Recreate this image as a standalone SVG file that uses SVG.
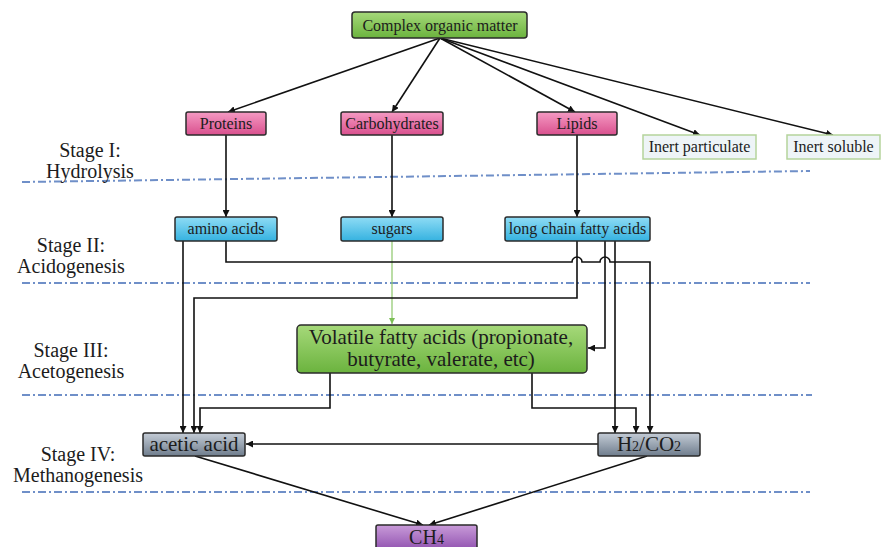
<svg xmlns="http://www.w3.org/2000/svg" width="883" height="547" viewBox="0 0 883 547">
<defs>
<linearGradient id="gGreen" x1="0" y1="0" x2="0" y2="1"><stop offset="0" stop-color="#a6d97a"/><stop offset="1" stop-color="#6bb33e"/></linearGradient>
<linearGradient id="gPink" x1="0" y1="0" x2="0" y2="1"><stop offset="0" stop-color="#f59ac3"/><stop offset="1" stop-color="#d9508e"/></linearGradient>
<linearGradient id="gBlue" x1="0" y1="0" x2="0" y2="1"><stop offset="0" stop-color="#8fdcf5"/><stop offset="1" stop-color="#35b2e0"/></linearGradient>
<linearGradient id="gGray" x1="0" y1="0" x2="0" y2="1"><stop offset="0" stop-color="#c4ccd6"/><stop offset="1" stop-color="#6f7d8d"/></linearGradient>
<linearGradient id="gPurple" x1="0" y1="0" x2="0" y2="1"><stop offset="0" stop-color="#c99bd9"/><stop offset="1" stop-color="#8e4fae"/></linearGradient>
<marker id="arr" viewBox="0 0 10 10" refX="10" refY="5" markerWidth="7" markerHeight="7" markerUnits="userSpaceOnUse" orient="auto"><path d="M0,0 L10,5 L0,10 z" fill="#111"/></marker>
<marker id="arrG" viewBox="0 0 10 10" refX="10" refY="5" markerWidth="6" markerHeight="6" markerUnits="userSpaceOnUse" orient="auto"><path d="M0,0 L10,5 L0,10 z" fill="#7cbf55"/></marker>
</defs>
<style>
.box{stroke:#2b2b2b;stroke-width:1.5}
.t{font-family:"Liberation Serif","Times New Roman",serif;fill:#1c1c1c;text-anchor:middle}
.s16{font-size:16px}
.s21{font-size:21px}
.stage{font-family:"Liberation Serif","Times New Roman",serif;font-size:20px;fill:#1c1c1c;text-anchor:middle}
.sep{stroke:#6f8fc8;stroke-width:2;stroke-dasharray:8 3 2 3;fill:none}
.c{stroke:#111;stroke-width:1.6;fill:none}
</style>
<rect width="883" height="547" fill="#ffffff"/>
<g id="separators">
<line class="sep" x1="22" y1="182" x2="810" y2="171"/>
<line class="sep" x1="22" y1="283" x2="810" y2="283"/>
<line class="sep" x1="22" y1="395" x2="812" y2="395"/>
<line class="sep" x1="22" y1="492" x2="810" y2="492"/>
</g>
<g id="stages">
<text class="stage" x="90" y="157">Stage I:</text>
<text class="stage" x="90" y="178">Hydrolysis</text>
<text class="stage" x="71" y="252">Stage II:</text>
<text class="stage" x="71" y="273">Acidogenesis</text>
<text class="stage" x="71" y="357">Stage III:</text>
<text class="stage" x="71" y="378">Acetogenesis</text>
<text class="stage" x="78" y="461">Stage IV:</text>
<text class="stage" x="78" y="482">Methanogenesis</text>
</g>
<g id="connectors">
<line class="c" x1="440" y1="38" x2="228" y2="112" marker-end="url(#arr)"/>
<line class="c" x1="440" y1="38" x2="392" y2="112" marker-end="url(#arr)"/>
<line class="c" x1="440" y1="38" x2="575" y2="112" marker-end="url(#arr)"/>
<line class="c" x1="440" y1="38" x2="700" y2="135" marker-end="url(#arr)"/>
<line class="c" x1="440" y1="38" x2="833" y2="135" marker-end="url(#arr)"/>
<line class="c" x1="226" y1="135" x2="226" y2="217" marker-end="url(#arr)"/>
<line class="c" x1="392" y1="135" x2="392" y2="217" marker-end="url(#arr)"/>
<line class="c" x1="577" y1="135" x2="577" y2="217" marker-end="url(#arr)"/>
<line x1="392" y1="241" x2="392" y2="324" stroke="#8cc66a" stroke-width="1.2" marker-end="url(#arrG)"/>
<path class="c" d="M183,241 V433" marker-end="url(#arr)"/>
<path class="c" d="M577,241 V298 H194 V433" marker-end="url(#arr)"/>
<path class="c" d="M330,373 V408 H200 V433" marker-end="url(#arr)"/>
<path class="c" d="M226,241 V262 H572 a5,5 0 0 1 10,0 H600 a5,5 0 0 1 10,0 H650 V433" marker-end="url(#arr)"/>
<path class="c" d="M605,241 V348 H588" marker-end="url(#arr)"/>
<path class="c" d="M615,241 V433" marker-end="url(#arr)"/>
<path class="c" d="M532,373 V408 H636 V433" marker-end="url(#arr)"/>
<line class="c" x1="598" y1="444" x2="246" y2="444" marker-end="url(#arr)"/>
<line class="c" x1="195" y1="456" x2="423" y2="525" marker-end="url(#arr)"/>
<line class="c" x1="647" y1="456" x2="429" y2="525" marker-end="url(#arr)"/>
</g>
<g id="complex">
<rect class="box" x="352" y="12" width="175" height="26" rx="3" fill="url(#gGreen)"/>
<text class="t s16" x="440" y="31">Complex organic matter</text>
</g>
<g id="proteins">
<rect class="box" x="186" y="112" width="80" height="23" rx="2" fill="url(#gPink)"/>
<text class="t s16" x="226" y="129">Proteins</text>
</g>
<g id="carbohydrates">
<rect class="box" x="341" y="112" width="102" height="23" rx="2" fill="url(#gPink)"/>
<text class="t s16" x="392" y="129">Carbohydrates</text>
</g>
<g id="lipids">
<rect class="box" x="537" y="112" width="80" height="23" rx="2" fill="url(#gPink)"/>
<text class="t s16" x="577" y="129">Lipids</text>
</g>
<g id="inert-particulate">
<rect x="643" y="135" width="113" height="24" fill="#eef4f7" stroke="#b5d49c" stroke-width="1.5"/>
<text class="t s16" x="699.5" y="152">Inert particulate</text>
</g>
<g id="inert-soluble">
<rect x="787" y="135" width="93" height="24" fill="#eef4f7" stroke="#b5d49c" stroke-width="1.5"/>
<text class="t s16" x="833.5" y="152">Inert soluble</text>
</g>
<g id="amino-acids">
<rect class="box" x="175" y="217" width="102" height="24" rx="2" fill="url(#gBlue)"/>
<text class="t s16" x="226" y="234">amino acids</text>
</g>
<g id="sugars">
<rect class="box" x="341" y="217" width="102" height="24" rx="2" fill="url(#gBlue)"/>
<text class="t s16" x="392" y="234">sugars</text>
</g>
<g id="lcfa">
<rect class="box" x="505" y="217" width="145" height="24" rx="2" fill="url(#gBlue)"/>
<text class="t s16" x="577.5" y="234">long chain fatty acids</text>
</g>
<g id="vfa">
<rect class="box" x="297" y="325" width="290" height="48" rx="4" fill="url(#gGreen)"/>
<text class="t s21" x="441" y="344">Volatile fatty acids (propionate,</text>
<text class="t s21" x="441" y="366">butyrate, valerate, etc)</text>
</g>
<g id="acetic-acid">
<rect class="box" x="143" y="433" width="102" height="23" rx="2" fill="url(#gGray)"/>
<text class="t s21" x="194" y="451">acetic acid</text>
</g>
<g id="h2co2">
<rect class="box" x="598" y="433" width="102" height="23" rx="2" fill="url(#gGray)"/>
<text class="t s21" x="649" y="451">H<tspan font-size="14">2</tspan>/CO<tspan font-size="14">2</tspan></text>
</g>
<g id="ch4">
<rect class="box" x="376" y="525" width="101" height="26" rx="2" fill="url(#gPurple)"/>
<text class="t" font-size="20" x="426.5" y="544">CH<tspan font-size="14">4</tspan></text>
</g>
</svg>
